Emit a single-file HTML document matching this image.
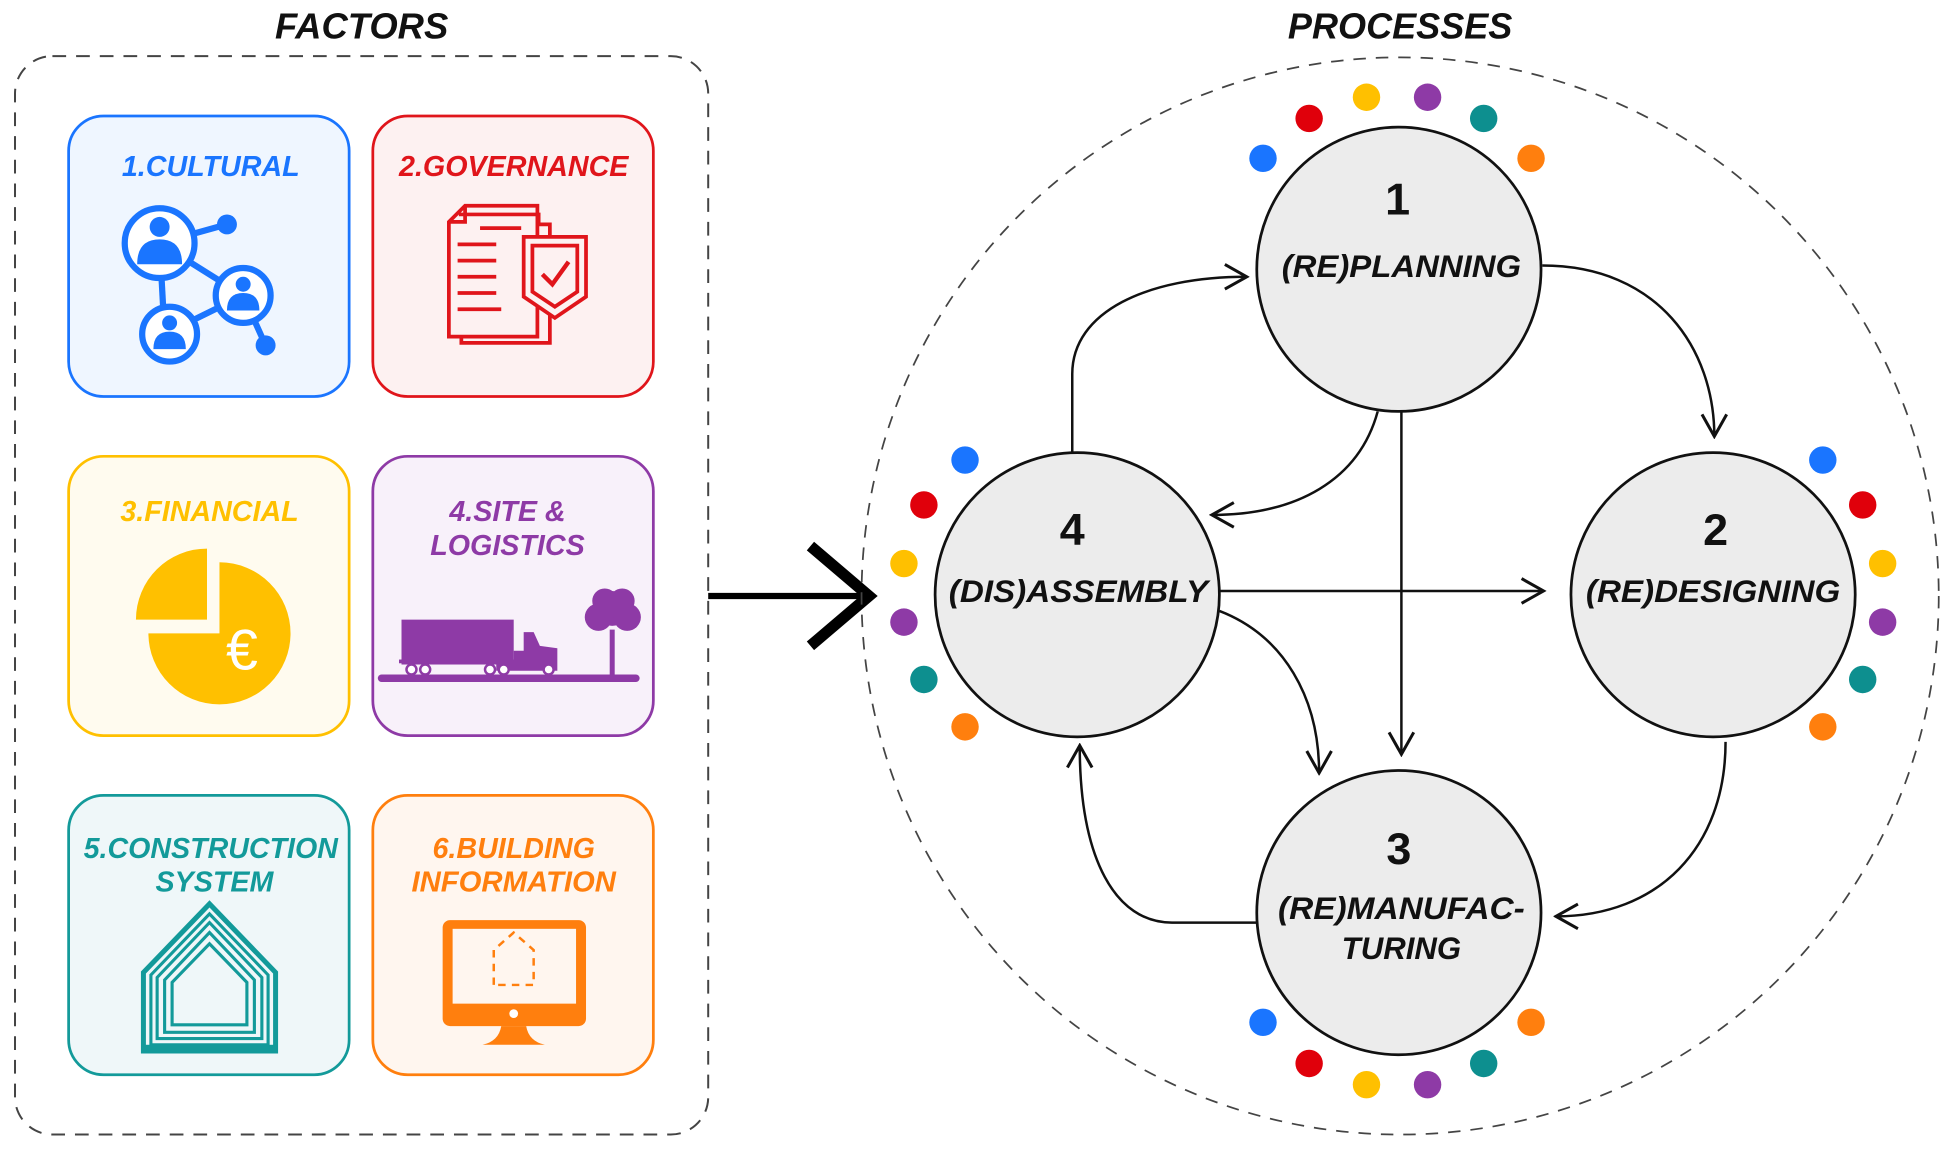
<!DOCTYPE html>
<html><head><meta charset="utf-8"><style>
html,body{margin:0;padding:0;background:#fff;}
svg{display:block;}
text{font-family:"Liberation Sans",Arial,sans-serif;font-weight:bold;font-style:italic;}
text.n{font-style:normal;}
</style></head><body>
<svg width="1955" height="1152" viewBox="0 0 1568 924" xmlns="http://www.w3.org/2000/svg">
<defs>
<marker id="ah" viewBox="0 0 20 20" refX="18" refY="10" markerWidth="22" markerHeight="22" markerUnits="userSpaceOnUse" orient="auto">
<path d="M2,1 L18,10 L2,19" fill="none" stroke="#111" stroke-width="2.2"/>
</marker>
</defs>
<!-- titles -->
<text x="290" y="31" font-size="29" text-anchor="middle" fill="#111" textLength="139" lengthAdjust="spacingAndGlyphs">FACTORS</text>
<text x="1123" y="31" font-size="29" text-anchor="middle" fill="#111" textLength="180" lengthAdjust="spacingAndGlyphs">PROCESSES</text>
<!-- left dashed box -->
<rect x="12" y="45" width="556" height="865" rx="30" fill="none" stroke="#444" stroke-width="1.6" stroke-dasharray="11,8"/>
<!-- cards -->
<rect x="55" y="93" width="225" height="225" rx="28" fill="#eff6ff" stroke="#1a75ff" stroke-width="2.2"/>
<rect x="299" y="93" width="225" height="225" rx="28" fill="#fdf1f1" stroke="#e0151b" stroke-width="2.2"/>
<rect x="55" y="366" width="225" height="224" rx="28" fill="#fffbef" stroke="#ffc000" stroke-width="2.2"/>
<rect x="299" y="366" width="225" height="224" rx="28" fill="#f8f1fa" stroke="#8e3aa6" stroke-width="2.2"/>
<rect x="55" y="638" width="225" height="224" rx="28" fill="#eff7f9" stroke="#139a9a" stroke-width="2.2"/>
<rect x="299" y="638" width="225" height="224" rx="28" fill="#fff6ef" stroke="#ff7f0e" stroke-width="2.2"/>
<g font-size="23" text-anchor="middle">
<text x="169" y="141" fill="#1a75ff">1.CULTURAL</text>
<text x="412" y="141" fill="#e0151b" textLength="184" lengthAdjust="spacingAndGlyphs">2.GOVERNANCE</text>
<text x="168" y="418" fill="#ffc000">3.FINANCIAL</text>
<text x="407" y="418" fill="#8e3aa6">4.SITE &amp;</text>
<text x="407" y="445" fill="#8e3aa6">LOGISTICS</text>
<text x="169" y="688" fill="#139a9a" textLength="204" lengthAdjust="spacingAndGlyphs">5.CONSTRUCTION</text>
<text x="172" y="715" fill="#139a9a">SYSTEM</text>
<text x="412" y="688" fill="#ff7f0e">6.BUILDING</text>
<text x="412" y="715" fill="#ff7f0e" textLength="164" lengthAdjust="spacingAndGlyphs">INFORMATION</text>
</g>
<!-- cultural icon -->
<g stroke="#1a75ff" stroke-width="5" fill="#1a75ff">
<line x1="128" y1="195" x2="182" y2="180"/><line x1="128" y1="195" x2="195" y2="237"/>
<line x1="128" y1="195" x2="132" y2="268"/><line x1="132" y1="268" x2="195" y2="237"/>
<line x1="195" y1="237" x2="213" y2="277"/>
<circle cx="182" cy="180" r="8" stroke="none"/><circle cx="213" cy="277" r="8" stroke="none"/>
<circle cx="128" cy="195" r="28" fill="#fff"/><circle cx="195" cy="237" r="22" fill="#fff"/><circle cx="136" cy="268" r="22" fill="#fff"/>
</g>
<g fill="#1a75ff">
<circle cx="128" cy="182" r="8"/><path d="M110,212 Q110,192 128,192 Q146,192 146,212 Z"/>
<circle cx="195" cy="228" r="6"/><path d="M182,249 Q182,235 195,235 Q208,235 208,249 Z"/>
<circle cx="136" cy="259" r="6"/><path d="M123,280 Q123,266 136,266 Q149,266 149,280 Z"/>
</g>
<!-- governance icon -->
<g fill="none" stroke="#e0151b" stroke-width="3">
<path d="M368,172 L432,172 L432,180 L441,180 L441,275 L370,275 L370,270"/>
<path d="M373,165 L431,165 L431,270 L360,270 L360,178 Z"/>
<path d="M360,178 L373,178 L373,165"/>
<line x1="385" y1="183" x2="418" y2="183"/>
<line x1="367" y1="196" x2="398" y2="196"/><line x1="367" y1="209" x2="398" y2="209"/>
<line x1="367" y1="222" x2="398" y2="222"/><line x1="367" y1="235" x2="398" y2="235"/>
<line x1="367" y1="248" x2="402" y2="248"/>
<path d="M420,190 L470,190 L470,238 L445,255 L420,238 Z" fill="#fdf1f1"/>
<path d="M427,197 L463,197 L463,234 L445,246 L427,234 Z"/>
<path d="M435,220 L443,228 L456,210" stroke-width="3.5"/>
</g>
<!-- financial icon -->
<path d="M176,508 L176,451 A57,57 0 1 1 119,508 Z" fill="#ffc000"/>
<path d="M166,497 L109,497 A57,57 0 0 1 166,440 Z" fill="#ffc000"/>
<text class="n" x="194" y="537" font-size="46" text-anchor="middle" fill="#fff" style="font-weight:normal">€</text>
<!-- site icon -->
<g fill="#8e3aa6">
<rect x="303" y="541" width="210" height="6" rx="3"/>
<rect x="322" y="497" width="90" height="36"/>
<rect x="320" y="529" width="95" height="3"/>
<path d="M412,522 L420,522 L420,507 L428,507 L433,518 L447,520 L447,538 L398,538 L398,530 L412,530 Z"/>
<circle cx="330" cy="537" r="4" fill="#fff" stroke="#8e3aa6" stroke-width="2"/><circle cx="341" cy="537" r="4" fill="#fff" stroke="#8e3aa6" stroke-width="2"/>
<circle cx="393" cy="537" r="4" fill="#fff" stroke="#8e3aa6" stroke-width="2"/><circle cx="404" cy="537" r="4" fill="#fff" stroke="#8e3aa6" stroke-width="2"/>
<circle cx="440" cy="537" r="4" fill="#fff" stroke="#8e3aa6" stroke-width="2"/>
<rect x="489" y="505" width="4" height="40"/>
<circle cx="491" cy="488" r="14"/><circle cx="480" cy="495" r="11"/><circle cx="503" cy="495" r="11"/><circle cx="485" cy="482" r="10"/><circle cx="499" cy="482" r="10"/>
</g>
<!-- construction icon -->
<g fill="none" stroke="#139a9a">
<path d="M115,843 L115,780 L168,725 L221,780 L221,843 Z" stroke-width="4"/>
<path d="M121,838 L121,782 L168,733 L215,782 L215,838 Z" stroke-width="2.5"/>
<path d="M126,833 L126,784 L168,740 L210,784 L210,833 Z" stroke-width="2.5"/>
<path d="M132,828 L132,786 L168,748 L204,786 L204,828 Z" stroke-width="2.5"/>
<path d="M138,822 L138,788 L168,757 L198,788 L198,822 Z" stroke-width="2.5"/>
</g>
<rect x="115" y="838" width="106" height="6" fill="#139a9a"/>
<!-- building info icon -->
<rect x="355" y="738" width="115" height="85" rx="6" fill="#ff7f0e"/>
<rect x="363" y="745" width="99" height="60" fill="#fff6ef"/>
<circle cx="412" cy="813" r="3.5" fill="#fff"/>
<path d="M402,823 L422,823 Q424,835 437,838 L387,838 Q400,835 402,823 Z" fill="#ff7f0e"/>
<path d="M396,790 L396,762 L412,748 L428,762 L428,790 Z" fill="none" stroke="#ff7f0e" stroke-width="2" stroke-dasharray="6,5"/>
<!-- big arrow -->
<line x1="568" y1="478" x2="695" y2="478" stroke="#000" stroke-width="5"/>
<path d="M650,438 L697,478 L650,518" fill="none" stroke="#000" stroke-width="9"/>
<!-- big dashed circle -->
<circle cx="1123" cy="478" r="432" fill="none" stroke="#444" stroke-width="1.4" stroke-dasharray="10,8"/>
<!-- connectors -->
<g fill="none" stroke="#111" stroke-width="2" marker-end="url(#ah)">
<path d="M1237,213 C1330,213 1375,280 1375,350"/>
<path d="M860,363 L860,300 C860,250 920,222 1000,222"/>
<path d="M1105,330 C1090,385 1040,413 972,413"/>
<path d="M1124,330 L1124,605"/>
<path d="M978,474 L1238,474"/>
<path d="M978,490 C1030,510 1058,560 1058,620"/>
<path d="M1008,740 L940,740 C895,740 866,690 866,598"/>
<path d="M1384,595 C1384,680 1330,735 1248,735"/>
</g>
<!-- nodes -->
<g fill="#ececec" stroke="#111" stroke-width="2.2">
<circle cx="1122" cy="216" r="114"/>
<circle cx="864" cy="477" r="114"/>
<circle cx="1374" cy="477" r="114"/>
<circle cx="1122" cy="732" r="114"/>
</g>
<g fill="#111" text-anchor="middle">
<text class="n" x="1121" y="172" font-size="36">1</text>
<text x="1124" y="222" font-size="25" textLength="192" lengthAdjust="spacingAndGlyphs">(RE)PLANNING</text>
<text class="n" x="860" y="437" font-size="36">4</text>
<text x="865" y="483" font-size="25" textLength="208" lengthAdjust="spacingAndGlyphs">(DIS)ASSEMBLY</text>
<text class="n" x="1376" y="437" font-size="36">2</text>
<text x="1374" y="483" font-size="25" textLength="204" lengthAdjust="spacingAndGlyphs">(RE)DESIGNING</text>
<text class="n" x="1122" y="693" font-size="36">3</text>
<text x="1124" y="737" font-size="25" textLength="198" lengthAdjust="spacingAndGlyphs">(RE)MANUFAC-</text>
<text x="1124" y="769" font-size="25">TURING</text>
</g>
<!-- dots -->
<g>
<circle cx="1013" cy="127" r="11" fill="#1a75ff"/><circle cx="1050" cy="95" r="11" fill="#e0000b"/><circle cx="1096" cy="78" r="11" fill="#ffc000"/><circle cx="1145" cy="78" r="11" fill="#8e3aa6"/><circle cx="1190" cy="95" r="11" fill="#0d8f8f"/><circle cx="1228" cy="127" r="11" fill="#ff7f0e"/>
<circle cx="1013" cy="820" r="11" fill="#1a75ff"/><circle cx="1050" cy="853" r="11" fill="#e0000b"/><circle cx="1096" cy="870" r="11" fill="#ffc000"/><circle cx="1145" cy="870" r="11" fill="#8e3aa6"/><circle cx="1190" cy="853" r="11" fill="#0d8f8f"/><circle cx="1228" cy="820" r="11" fill="#ff7f0e"/>
<circle cx="774" cy="369" r="11" fill="#1a75ff"/><circle cx="741" cy="405" r="11" fill="#e0000b"/><circle cx="725" cy="452" r="11" fill="#ffc000"/><circle cx="725" cy="499" r="11" fill="#8e3aa6"/><circle cx="741" cy="545" r="11" fill="#0d8f8f"/><circle cx="774" cy="583" r="11" fill="#ff7f0e"/>
<circle cx="1462" cy="369" r="11" fill="#1a75ff"/><circle cx="1494" cy="405" r="11" fill="#e0000b"/><circle cx="1510" cy="452" r="11" fill="#ffc000"/><circle cx="1510" cy="499" r="11" fill="#8e3aa6"/><circle cx="1494" cy="545" r="11" fill="#0d8f8f"/><circle cx="1462" cy="583" r="11" fill="#ff7f0e"/>
</g>
</svg>
</body></html>
